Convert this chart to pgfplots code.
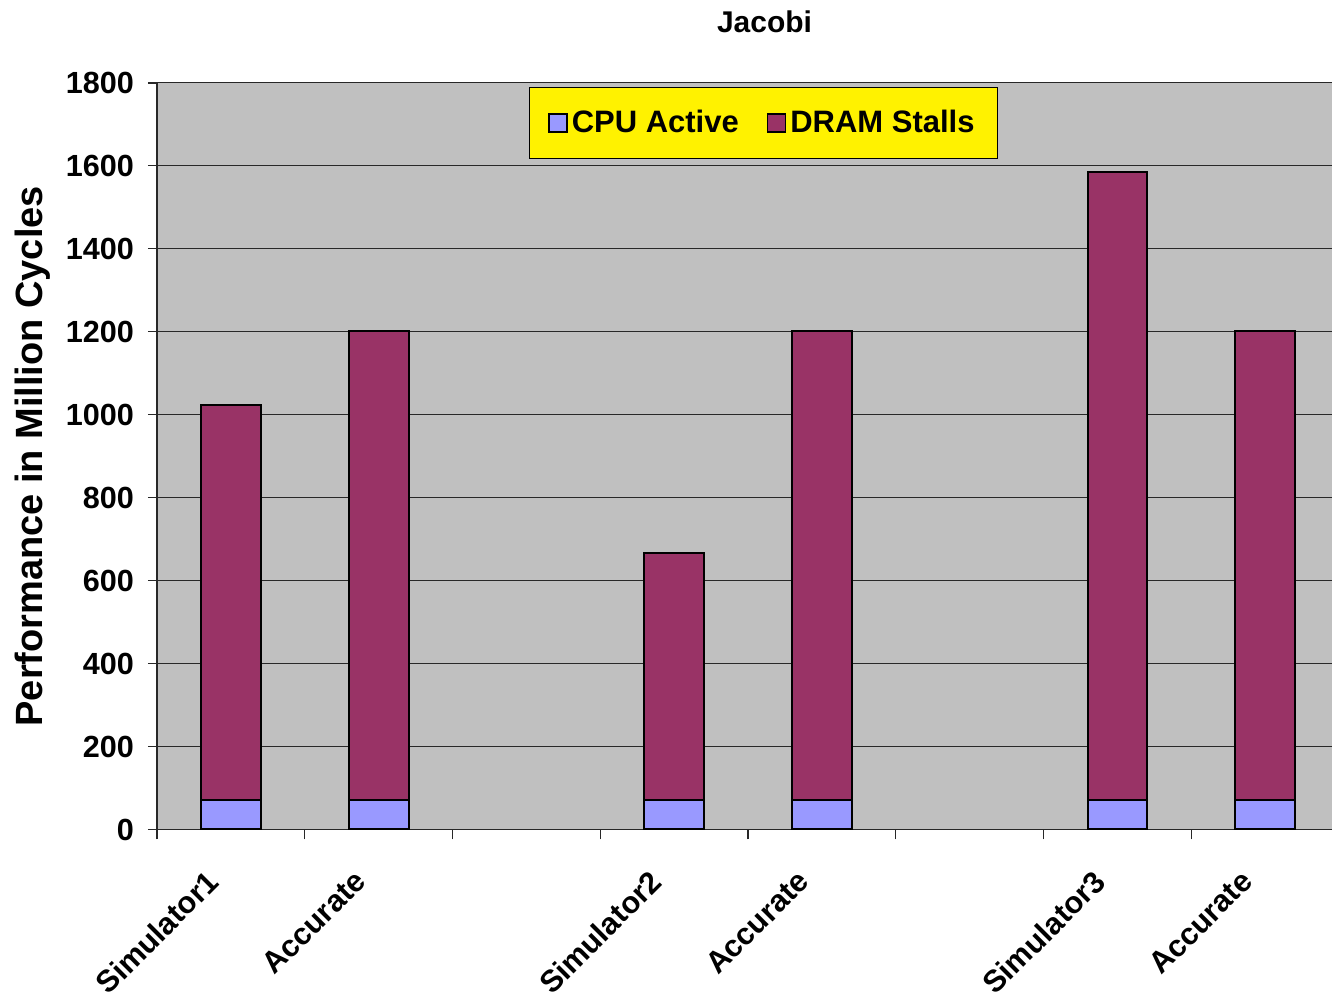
\documentclass[border=0pt]{standalone}
\usepackage{fontspec}
\setmainfont{Liberation Sans}
\usepackage{pgfplots}
\pgfplotsset{compat=1.18}
\definecolor{plotbg}{RGB}{192,192,192}
\definecolor{cpucol}{RGB}{153,153,255}
\definecolor{dramcol}{RGB}{153,51,102}
\definecolor{gridcol}{RGB}{40,40,40}
\begin{document}
\begin{tikzpicture}
\begin{axis}[
  at={(0,0)}, anchor=south west,
  scale only axis,
  width=588pt, height=373.5pt,
  ybar stacked,
  bar width=30pt,
  xmin=-0.5, xmax=7.453,
  ymin=0, ymax=1800,
  ytick={0,200,...,1800},
  xtick={0,1,3,4,6,7},
  xticklabels={Simulator1,Accurate,Simulator2,Accurate,Simulator3,Accurate},
  minor xtick={-0.5,0.5,1.5,2.5,3.5,4.5,5.5,6.5},
  major x tick style={draw=none},
  minor x tick style={gridcol, line width=0.6pt},
  minor tick length=5pt,
  y tick style={gridcol, line width=0.6pt},
  major tick length=4.5pt,
  tick align=outside,
  axis x line*=bottom,
  axis y line*=left,
  axis line style={gridcol, line width=0.8pt, -},
  ymajorgrids,
  grid style={gridcol, line width=0.5pt},
  axis background/.style={fill=plotbg},
  /pgf/number format/assume math mode=true,
  /pgf/number format/1000 sep={},
  ticklabel style={font=\bfseries\fontsize{15.3}{18}\selectfont},
  yticklabel style={xshift=-3.5pt},
  xticklabel style={xshift=-13pt, yshift=-10pt, rotate=45, anchor=north east},
  ylabel={Performance in Million Cycles},
  every axis y label/.style={at={(axis description cs:-0.1054,0.5)}, rotate=90, anchor=center,
    font=\bfseries\fontsize{19}{22}\selectfont},
  legend columns=2,
  legend style={at={(axis description cs:0.516,0.946)}, anchor=center,
    fill=yellow, draw=black, line width=0.5pt,
    font=\bfseries\fontsize{15.5}{18}\selectfont,
    inner xsep=9.5pt, inner ysep=9.5pt,
    /tikz/every even column/.append style={column sep=12pt}},
  legend image code/.code={\draw[#1, draw=black, line width=0.8pt] (0pt,-4.5pt) rectangle (9pt,4.5pt);},
  clip=false,
]
\addplot[fill=cpucol, draw=black, line width=1pt] coordinates {(0,72) (1,72) (3,72) (4,72) (6,72) (7,72)};
\addplot[fill=dramcol, draw=black, line width=1pt] coordinates {(0,952) (1,1131) (3,595) (4,1131) (6,1514) (7,1131)};
\legend{CPU Active, DRAM Stalls}
\end{axis}
\node[font=\bfseries\fontsize{15}{18}\selectfont] at (304pt,404pt) {Jacobi};
\useasboundingbox (-78.5pt,-87pt) rectangle (588pt,415pt);
\end{tikzpicture}
\end{document}
